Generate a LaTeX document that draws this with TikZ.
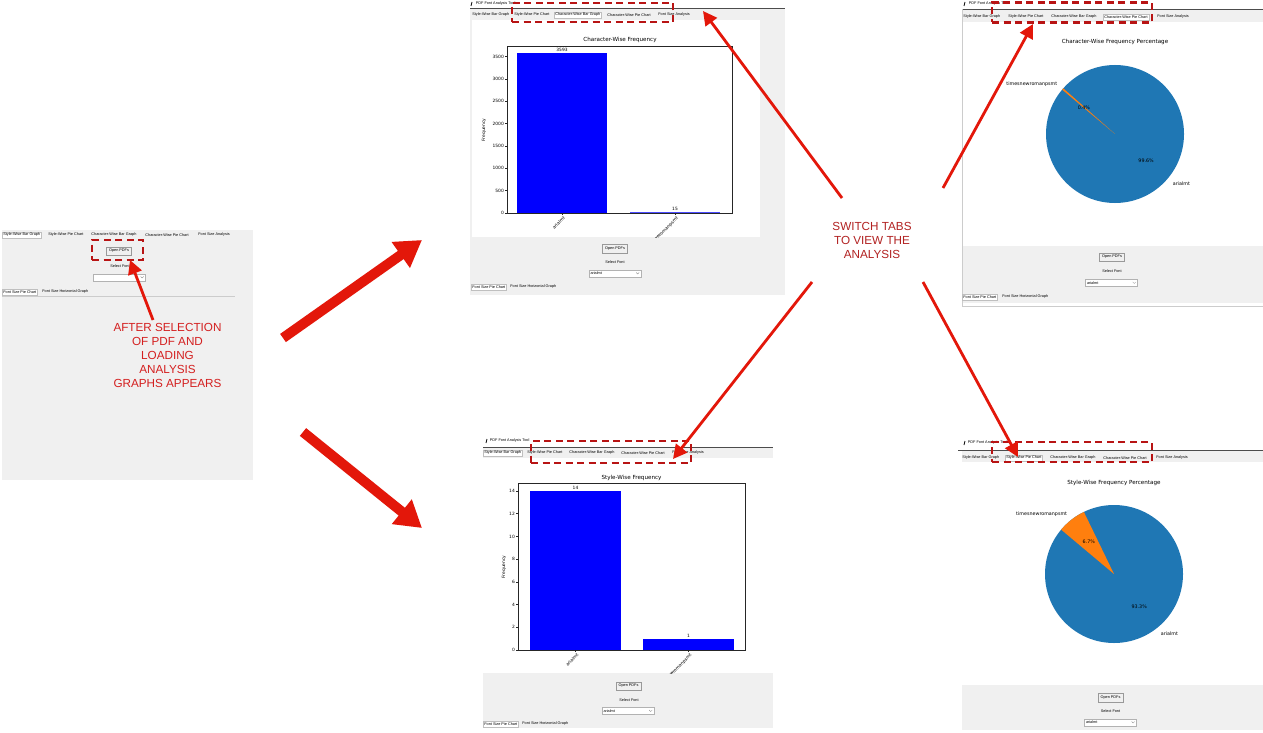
\documentclass[tikz,border=0pt]{standalone}
\usepackage{fontspec}
\setmainfont{Liberation Sans}
\newfontfamily\plotfont{DejaVu Sans}
\usetikzlibrary{positioning}
\usetikzlibrary{arrows.meta}
\usetikzlibrary{calc}
\definecolor{guigray}{HTML}{F0F0F0}
\definecolor{hired}{HTML}{B81414}
\definecolor{arrred}{HTML}{E3170A}
\definecolor{notered}{HTML}{D42020}
\definecolor{switchred}{HTML}{B22222}
\definecolor{pieblue}{HTML}{1F77B4}
\definecolor{pieorange}{HTML}{FF7F0E}

\begin{document}
\begin{tikzpicture}[x=1pt, y=-1pt,
		gui/.style = {font=\fontsize{3.8}{4.5}\selectfont, inner sep=0.7pt},
		tab/.style = {gui, anchor=west, inner xsep=1.2pt, inner ysep=1.5pt},
		seltab/.style = {tab, fill=white, draw=gray!50, line width=0.3pt},
		button/.style = {gui, draw=gray!80, fill=gray!12, line width=0.4pt, minimum width=25pt, minimum height=8.5pt},
		combo/.style = {gui, draw=gray!60, fill=white, line width=0.4pt, text width=49pt, align=left, inner xsep=1.5pt, minimum height=7pt},
		hilite/.style = {draw=hired, line width=2.4pt, dash pattern=on 7pt off 4.5pt},
		callout/.style = {-{Triangle[length=14pt,width=14pt]}, arrred, line width=2.8pt},
		bigarrow/.style = {-{Triangle[length=26pt,width=30pt]}, arrred, line width=10pt},
		plottitle/.style = {font=\plotfont\fontsize{5.6}{6.5}\selectfont, inner sep=0pt},
		tick/.style = {font=\plotfont\fontsize{4.4}{5}\selectfont, inner sep=1pt},
		pielabel/.style = {font=\plotfont\fontsize{4.8}{5.5}\selectfont, inner sep=0pt},
		note/.style = {font=\fontsize{11.7}{14}\selectfont, align=center},
		axis/.style = {gray!30!black, line width=0.5pt}]
	\useasboundingbox (0,0) rectangle (1263,733);
	\fill[white] (0,0) rectangle (1263,733);

	\fill[guigray] (2,230) rectangle (253,480);
	\foreach \lbl/\tx/\st [count=\i] in {Style-Wise Bar Graph/2/seltab, Style-Wise Pie Chart/47/tab, Character-Wise Bar Graph/90/tab, Character-Wise Pie Chart/144/tab, Font Size Analysis/197/tab}
		\node[\st] (tabL\i) at (\tx,235) {\lbl};
	\node[button] (openL) at (119,251) {Open PDFs};
	\node[gui] (fontL) at (120,266) {Select Font};
	\node[combo] (comboL) at (119.5,277.5) {};
	\draw[gray, line width=0.3pt] ($(comboL.east)+(-5,-1)$) -- ++(1.5,1.5) -- ++(1.5,-1.5);
	\node[seltab] (fsL1) at (2,292) {Font Size Pie Chart};
	\node[tab] (fsL2) at (41,292) {Font Size Horizontal Graph};
	\draw[gray!40, line width=0.4pt] (2,296.5) -- (235,296.5);
	\node[hilite, minimum width=51pt, minimum height=20pt] (selL) at (117.5,250) {};
	\node[note, notered] (noteL) at (167.5,355) {AFTER SELECTION\\OF PDF AND\\LOADING\\ANALYSIS\\GRAPHS APPEARS};
	\coordinate (noteLtop) at (153,320);
	\coordinate (openLtip) at (130,260);
	\draw[callout] (noteLtop) -- (openLtip);

	\coordinate (fromL1) at (283,338);
	\coordinate (toA) at (422,240);
	\coordinate (fromL2) at (303,432);
	\coordinate (toC) at (422,528);
	\draw[bigarrow] (fromL1) -- (toA);
	\draw[bigarrow] (fromL2) -- (toC);

	\draw[line width=0.8pt] (471,6) -- (472,2);
	\node[gui, anchor=west] (titleA) at (475,4) {PDF Font Analysis Tool};
	\fill[guigray] (470,9) rectangle (785,295);
	\draw[gray!60!black, line width=0.6pt] (470,8.5) -- (785,8.5);
	\fill[white] (472,20) rectangle (760,237);
	\foreach \lbl/\tx/\st [count=\i] in {Style-Wise Bar Graph/471/tab, Style-Wise Pie Chart/513/tab, Character-Wise Bar Graph/554/seltab, Character-Wise Pie Chart/606/tab, Font Size Analysis/657/tab}
		\node[\st] (tabA\i) at (\tx,15) {\lbl};
	\node[plottitle] (ttlA) at (620,40) {Character-Wise Frequency};
	\fill[blue] (517,52.7) rectangle (607,213);
	\fill[blue!70] (630,212.2) rectangle (720,213);
	\draw[axis] (507,46) rectangle (732,213);
	\node[tick, above] (valA1) at (562,52.7) {3593};
	\node[tick, above] (valA2) at (675,212) {15};
	\foreach \v in {0,500,...,3500} {
		\draw[axis] (505,213-\v*0.04466) -- (507,213-\v*0.04466);
		\node[tick, left] (yA\v) at (505,213-\v*0.04466) {\v};
	}
	\node[tick, rotate=90] (ylabA) at (484,130) {Frequency};
	\draw[axis] (562,213) -- (562,215) (675,213) -- (675,215);
	\begin{scope}
		\clip (472,213) rectangle (760,237);
		\node[tick, anchor=north east, rotate=45] (xA1) at (563,214.5) {arialmt};
		\node[tick, anchor=north east, rotate=45] (xA2) at (676,214.5) {timesnewromanpsmt};
	\end{scope}
	\node[button] (openA) at (615,248.5) {Open PDFs};
	\node[gui] (fontA) at (615,262) {Select Font};
	\node[combo] (comboA) at (615,273.5) {arialmt};
	\draw[gray, line width=0.3pt] ($(comboA.east)+(-5,-1)$) -- ++(1.5,1.5) -- ++(1.5,-1.5);
	\node[seltab] (fsA1) at (471,287) {Font Size Pie Chart};
	\node[tab] (fsA2) at (509,287) {Font Size Horizontal Graph};
	\node[hilite, minimum width=161pt, minimum height=19pt] (selA) at (592.5,12.5) {};

	\draw[line width=0.8pt] (964,6) -- (965,2);
	\node[gui, anchor=west] (titleB) at (968,4) {PDF Font Analysis Tool};
	\fill[guigray] (962,9.5) rectangle (1263,303);
	\draw[gray!60!black, line width=0.6pt] (962,9) -- (1263,9);
	\fill[white] (962,22) rectangle (1263,246);
	\draw[gray!40, line width=0.5pt] (962,9) -- (962,306) -- (1263,306);
	\foreach \lbl/\tx/\st [count=\i] in {Style-Wise Bar Graph/962/tab, Style-Wise Pie Chart/1007/tab, Character-Wise Bar Graph/1050/tab, Character-Wise Pie Chart/1103/seltab, Font Size Analysis/1156/tab}
		\node[\st] (tabB\i) at (\tx,17) {\lbl};
	\node[plottitle] (ttlB) at (1115,42) {Character-Wise Frequency Percentage};
	\begin{scope}[shift={(1115,134)}, y=1pt]
		\fill[pieblue] (0,0) circle[radius=69];
		\fill[pieorange] (0,0) -- (138.56:69) arc[start angle=138.56, end angle=140, radius=69] -- cycle;
		\node[pielabel, anchor=east] (lbB1) at (139.28:76) {timesnewromanpsmt};
		\node[pielabel] (pcB1) at (139.28:41) {0.4\%};
		\node[pielabel] (pcB2) at (319.28:41) {99.6\%};
		\node[pielabel, anchor=west] (lbB2) at (319.28:76) {arialmt};
	\end{scope}
	\node[button] (openB) at (1112,257) {Open PDFs};
	\node[gui] (fontB) at (1112,271) {Select Font};
	\node[combo] (comboB) at (1111.5,283) {arialmt};
	\draw[gray, line width=0.3pt] ($(comboB.east)+(-5,-1)$) -- ++(1.5,1.5) -- ++(1.5,-1.5);
	\node[seltab] (fsB1) at (962,297) {Font Size Pie Chart};
	\node[tab] (fsB2) at (1001,297) {Font Size Horizontal Graph};
	\node[hilite, minimum width=160pt, minimum height=20pt] (selB) at (1072,12.5) {};

	\draw[line width=0.8pt] (486,443) -- (487,439);
	\node[gui, anchor=west] (titleC) at (489,441) {PDF Font Analysis Tool};
	\fill[guigray] (483,448) rectangle (773,728);
	\draw[gray!60!black, line width=0.6pt] (483,447) -- (773,447);
	\fill[white] (483,458) rectangle (773,673);
	\foreach \lbl/\tx/\st [count=\i] in {Style-Wise Bar Graph/483/seltab, Style-Wise Pie Chart/526/tab, Character-Wise Bar Graph/568/tab, Character-Wise Pie Chart/620/tab, Font Size Analysis/671/tab}
		\node[\st] (tabC\i) at (\tx,453) {\lbl};
	\node[plottitle] (ttlC) at (631.5,478) {Style-Wise Frequency};
	\fill[blue] (530,491) rectangle (621,650);
	\fill[blue] (643,638.6) rectangle (734,650);
	\draw[axis] (518,483) rectangle (745,650);
	\node[tick, above] (valC1) at (575.5,491) {14};
	\node[tick, above] (valC2) at (688.5,638.6) {1};
	\foreach \v in {0,2,...,14} {
		\draw[axis] (516,650-\v*11.357) -- (518,650-\v*11.357);
		\node[tick, left] (yC\v) at (516,650-\v*11.357) {\v};
	}
	\node[tick, rotate=90] (ylabC) at (504,567) {Frequency};
	\draw[axis] (575.5,650) -- (575.5,652) (688.5,650) -- (688.5,652);
	\begin{scope}
		\clip (483,650) rectangle (773,673);
		\node[tick, anchor=north east, rotate=45] (xC1) at (576.5,651.5) {arialmt};
		\node[tick, anchor=north east, rotate=45] (xC2) at (689.5,651.5) {timesnewromanpsmt};
	\end{scope}
	\node[button] (openC) at (628.5,686) {Open PDFs};
	\node[gui] (fontC) at (629,700) {Select Font};
	\node[combo] (comboC) at (628,711) {arialmt};
	\draw[gray, line width=0.3pt] ($(comboC.east)+(-5,-1)$) -- ++(1.5,1.5) -- ++(1.5,-1.5);
	\node[seltab] (fsC1) at (483,724) {Font Size Pie Chart};
	\node[tab] (fsC2) at (521,724) {Font Size Horizontal Graph};
	\node[hilite, minimum width=160pt, minimum height=22pt] (selC) at (611,452) {};

	\draw[line width=0.8pt] (964,445) -- (965,441);
	\node[gui, anchor=west] (titleD) at (967,443) {PDF Font Analysis Tool};
	\fill[guigray] (962,450.5) rectangle (1263,730);
	\draw[gray!60!black, line width=0.6pt] (958,450) -- (1263,450);
	\fill[white] (962,462) rectangle (1263,685);
	\foreach \lbl/\tx/\st [count=\i] in {Style-Wise Bar Graph/961/tab, Style-Wise Pie Chart/1005/seltab, Character-Wise Bar Graph/1049/tab, Character-Wise Pie Chart/1102/tab, Font Size Analysis/1155/tab}
		\node[\st] (tabD\i) at (\tx,458) {\lbl};
	\node[plottitle] (ttlD) at (1114,483) {Style-Wise Frequency Percentage};
	\begin{scope}[shift={(1114,574)}, y=1pt]
		\fill[pieblue] (0,0) circle[radius=69];
		\fill[pieorange] (0,0) -- (115.9:69) arc[start angle=115.9, end angle=140, radius=69] -- cycle;
		\node[pielabel, anchor=east] (lbD1) at (127.95:76) {timesnewromanpsmt};
		\node[pielabel] (pcD1) at (127.95:41) {6.7\%};
		\node[pielabel] (pcD2) at (307.95:41) {93.3\%};
		\node[pielabel, anchor=west] (lbD2) at (307.95:76) {arialmt};
	\end{scope}
	\node[button] (openD) at (1110.5,697.5) {Open PDFs};
	\node[gui] (fontD) at (1110.5,711) {Select Font};
	\node[combo] (comboD) at (1110.5,722.5) {arialmt};
	\draw[gray, line width=0.3pt] ($(comboD.east)+(-5,-1)$) -- ++(1.5,1.5) -- ++(1.5,-1.5);
	\node[hilite, minimum width=160pt, minimum height=20pt] (selD) at (1072,452) {};

	\node[note, switchred] (switch) at (872,240) {SWITCH TABS\\TO VIEW THE\\ANALYSIS};
	\coordinate (swA) at (842,198);
	\coordinate (tipA) at (703,11);
	\coordinate (swB) at (943,188);
	\coordinate (tipB) at (1033,24);
	\coordinate (swC) at (812,282);
	\coordinate (tipC) at (673,459);
	\coordinate (swD) at (923,282);
	\coordinate (tipD) at (1018,457);
	\draw[callout] (swA) -- (tipA);
	\draw[callout] (swB) -- (tipB);
	\draw[callout] (swC) -- (tipC);
	\draw[callout] (swD) -- (tipD);
\end{tikzpicture}
\end{document}
